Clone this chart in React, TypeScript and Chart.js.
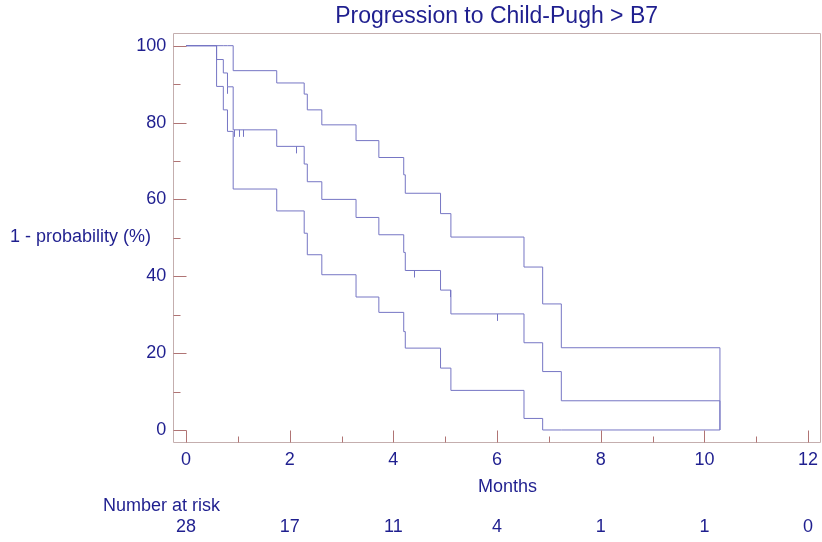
import React, { useEffect, useRef } from "react";
import { Chart, registerables } from "chart.js";

Chart.register(...registerables);

// ---- Data ----
const chartTitle = "Progression to Child-Pugh > B7";
const yAxisTitle = "1 - probability (%)";
const xAxisTitle = "Months";
const riskTitle = "Number at risk";

const xTickValues = [0, 2, 4, 6, 8, 10, 12];
const yTickValues = [0, 20, 40, 60, 80, 100];
const numberAtRisk = [28, 17, 11, 4, 1, 1, 0];

const eventTimes = [0, 0.59, 0.72, 0.8, 0.91, 1.75, 2.28, 2.34, 2.62, 3.28, 3.72, 4.2, 4.23, 4.91, 5.11, 6.52, 6.88, 7.24, 10.3];
const survival = [100, 96.4, 92.9, 89.3, 78.1, 73.8, 69.2, 64.6, 60.0, 55.3, 50.8, 46.2, 41.5, 36.4, 30.2, 22.7, 15.2, 7.6, 0];
const upperCI = [100, 100, 100, 100, 93.5, 90.3, 87.4, 83.3, 79.4, 75.3, 70.9, 66.4, 61.6, 56.3, 50.2, 42.4, 32.8, 21.4, 0];
const lowerCI = [100, 89.4, 83.3, 77.7, 62.7, 57.0, 51.2, 45.6, 40.4, 34.6, 30.6, 25.6, 21.3, 16.1, 10.3, 3.0, 0, 0, 0];

const censorTimes = [0.8, 0.93, 1.03, 1.1, 2.13, 4.4, 5.09, 6.0];
const censorValues = [89.3, 78.1, 78.1, 78.1, 73.8, 41.5, 36.4, 30.2];

// ---- Styles ----
const LINE = "#7676c4";
const TEXT = "#1f1f8f";
const FRAME = "#c4aeae";
const TICK = "#b07474";
const FONT = "'Liberation Sans', Arial, sans-serif";

const toPts = (xs: number[], ys: number[]) => xs.map((x, i) => ({ x, y: ys[i] }));

const decorPlugin = {
  id: "decor",
  afterDatasetsDraw(chart: any) {
    const { ctx, chartArea, scales } = chart;
    const xs = scales.x;
    const ys = scales.y;
    ctx.save();
    // censor marks
    ctx.strokeStyle = LINE;
    ctx.lineWidth = 1;
    censorTimes.forEach((t, i) => {
      const px = Math.round(xs.getPixelForValue(t)) + 0.5;
      const py = ys.getPixelForValue(censorValues[i]);
      ctx.beginPath();
      ctx.moveTo(px, py);
      ctx.lineTo(px, py + 7);
      ctx.stroke();
    });
    // frame
    ctx.strokeStyle = FRAME;
    ctx.beginPath();
    ctx.rect(
      Math.round(chartArea.left) + 0.5,
      Math.round(chartArea.top) + 0.5,
      Math.round(chartArea.right - chartArea.left),
      Math.round(chartArea.bottom - chartArea.top)
    );
    ctx.stroke();
    // ticks
    ctx.strokeStyle = TICK;
    const L = Math.round(chartArea.left) + 0.5;
    const B = Math.round(chartArea.bottom) + 0.5;
    for (let v = 0; v <= 100; v += 10) {
      const py = Math.round(ys.getPixelForValue(v)) + 0.5;
      const len = v % 20 === 0 ? 13 : 7;
      ctx.beginPath();
      ctx.moveTo(L, py);
      ctx.lineTo(L + len, py);
      ctx.stroke();
    }
    for (let v = 0; v <= 12; v += 1) {
      const px = Math.round(xs.getPixelForValue(v)) + 0.5;
      const len = v % 2 === 0 ? 12 : 6;
      ctx.beginPath();
      ctx.moveTo(px, B);
      ctx.lineTo(px, B - len);
      ctx.stroke();
    }
    // texts
    ctx.fillStyle = TEXT;
    ctx.textBaseline = "middle";
    ctx.textAlign = "center";
    ctx.font = `23px ${FONT}`;
    ctx.fillText(chartTitle, (chartArea.left + chartArea.right) / 2, 17);
    ctx.font = `18px ${FONT}`;
    ctx.fillText(xAxisTitle, 507.5, 487);
    ctx.textAlign = "left";
    ctx.fillText(yAxisTitle, 10, (chartArea.top + chartArea.bottom) / 2);
    ctx.fillText(riskTitle, 103, 506);
    ctx.textAlign = "center";
    xTickValues.forEach((v, i) => {
      ctx.fillText(String(numberAtRisk[i]), xs.getPixelForValue(v), 527);
    });
    ctx.restore();
  },
};

export default function App() {
  const ref = useRef<HTMLCanvasElement>(null);
  useEffect(() => {
    if (!ref.current) return;
    const ds = (data: number[]) => ({
      data: toPts(eventTimes, data),
      borderColor: LINE,
      borderWidth: 1,
      pointRadius: 0,
      fill: false,
      stepped: "before" as const,
    });
    const chart = new Chart(ref.current, {
      type: "line",
      data: { datasets: [ds(upperCI), ds(survival), ds(lowerCI)] },
      options: {
        animation: false,
        responsive: false,
        devicePixelRatio: 1,
        layout: { padding: { left: 0, top: 33, right: 2, bottom: 0 }, autoPadding: false },
        plugins: { legend: { display: false }, tooltip: { enabled: false }, title: { display: false } },
        scales: {
          x: {
            type: "linear",
            min: -0.245,
            max: 12.23,
            grid: { display: false, drawTicks: false },
            border: { display: false },
            afterBuildTicks: (s: any) => {
              s.ticks = xTickValues.map((v) => ({ value: v }));
            },
            afterFit: (s: any) => {
              s.height = 100.3;
              s.paddingLeft = 0;
              s.paddingRight = 0;
            },
            ticks: { color: TEXT, font: { family: FONT, size: 18 }, padding: 8, maxRotation: 0, autoSkip: false },
          },
          y: {
            type: "linear",
            min: -3.05,
            max: 103.3,
            grid: { display: false, drawTicks: false },
            border: { display: false },
            afterBuildTicks: (s: any) => {
              s.ticks = yTickValues.map((v) => ({ value: v }));
            },
            afterFit: (s: any) => {
              s.width = 173.3;
              s.paddingTop = 0;
              s.paddingBottom = 0;
            },
            ticks: { color: TEXT, font: { family: FONT, size: 18 }, padding: 7, autoSkip: false },
          },
        },
      },
      plugins: [decorPlugin],
    });
    return () => chart.destroy();
  }, []);
  return (
    <div style={{ position: "absolute", left: 0, top: 0, width: 822, height: 542, background: "#fff" }}>
      <canvas ref={ref} width={822} height={542} style={{ width: 822, height: 542 }} />
    </div>
  );
}
